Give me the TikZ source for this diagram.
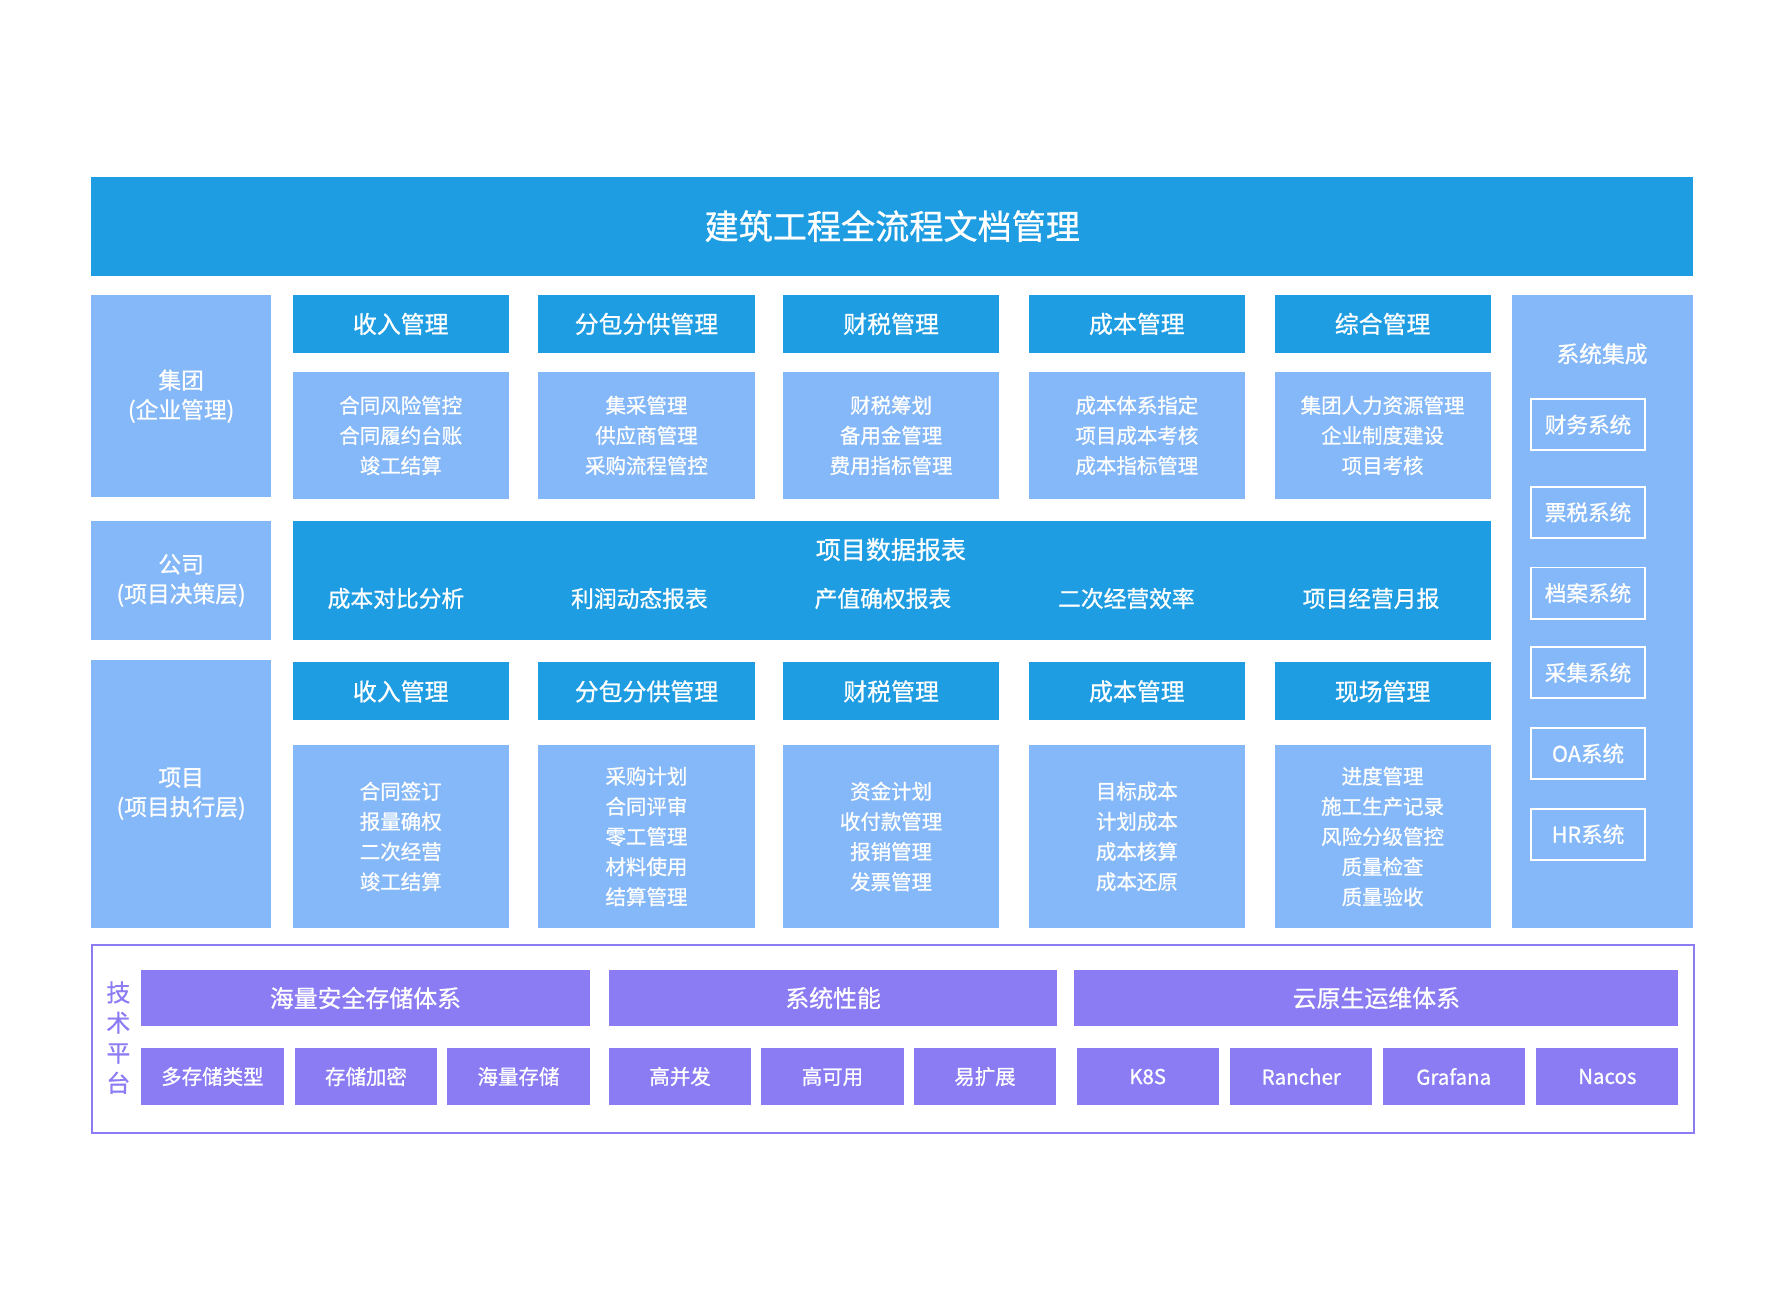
\documentclass[tikz,border=0pt]{standalone}
\usepackage{fontspec}
\setmainfont{Noto Sans CJK SC}[FakeBold=0.8]
\definecolor{db}{HTML}{1E9DE2}
\definecolor{lb}{HTML}{85B8F8}
\definecolor{pu}{HTML}{8B7CF4}
\begin{document}
\begin{tikzpicture}[x=1pt,y=-1pt,
 box/.style={anchor=north west,inner sep=0pt,text=white,align=center},
 hd/.style={box,fill=db,font=\fontsize{21}{24}\selectfont},
 ct/.style={box,fill=lb,font=\fontsize{18}{26.5}\selectfont},
 ph/.style={box,fill=pu,font=\fontsize{21}{24}\selectfont},
 ps/.style={box,fill=pu,font=\fontsize{18}{22}\selectfont},
 sb/.style={box,draw=white,line width=1.5pt,font=\fontsize{19}{22}\selectfont,minimum width=100pt,minimum height=45pt}]
\useasboundingbox (0,0) rectangle (1568,1146);
\node[hd,minimum width=1408pt,minimum height=87pt,font=\fontsize{30}{34}\selectfont] (title) at (80,155) {建筑工程全流程文档管理};
\node[ct,minimum width=158pt,minimum height=178pt,font=\fontsize{20}{26}\selectfont] (l1) at (80,259) {集团\\(企业管理)};
\node[ct,minimum width=158pt,minimum height=104pt,font=\fontsize{20}{26}\selectfont] (l2) at (80,458) {公司\\(项目决策层)};
\node[ct,minimum width=158pt,minimum height=235pt,font=\fontsize{20}{26}\selectfont] (l3) at (80,580) {项目\\(项目执行层)};
\foreach \x/\h/\c/\hh/\cc [count=\i] in {
 257/收入管理/{合同风险管控\\合同履约台账\\竣工结算}/收入管理/{合同签订\\报量确权\\二次经营\\竣工结算},
 473/分包分供管理/{集采管理\\供应商管理\\采购流程管控}/分包分供管理/{采购计划\\合同评审\\零工管理\\材料使用\\结算管理},
 688/财税管理/{财税筹划\\备用金管理\\费用指标管理}/财税管理/{资金计划\\收付款管理\\报销管理\\发票管理},
 904/成本管理/{成本体系指定\\项目成本考核\\成本指标管理}/成本管理/{目标成本\\计划成本\\成本核算\\成本还原},
 1120/综合管理/{集团人力资源管理\\企业制度建设\\项目考核}/现场管理/{进度管理\\施工生产记录\\风险分级管控\\质量检查\\质量验收}}{
 \node[hd,minimum width=190pt,minimum height=51pt] (h\i) at (\x,259) {\h};
 \node[ct,minimum width=190pt,minimum height=111pt] (c\i) at (\x,327) {\c};
 \node[hd,minimum width=190pt,minimum height=51pt] (hh\i) at (\x,582) {\hh};
 \node[ct,minimum width=190pt,minimum height=160pt] (cc\i) at (\x,655) {\cc};
}
\node[hd,minimum width=1053pt,minimum height=104pt] (band) at (257,458) {};
\node[text=white,font=\fontsize{22}{24}\selectfont] (bt) at (783,483) {项目数据报表};
\foreach \x/\t [count=\i] in {348/成本对比分析,562/利润动态报表,776/产值确权报表,990/二次经营效率,1205/项目经营月报}
 \node[text=white,font=\fontsize{20}{24}\selectfont] (b\i) at (\x,526) {\t};
\node[ct,minimum width=159pt,minimum height=556pt] (rc) at (1329,259) {};
\node[text=white,font=\fontsize{20}{24}\selectfont] (rt) at (1408,311) {系统集成};
\foreach \y/\t [count=\i] in {350/财务系统,427/票税系统,498/档案系统,568/采集系统,639/OA系统,710/HR系统}
 \node[sb] (s\i) at (1345,\y) {\t};
\node[box,draw=pu,line width=1.5pt,minimum width=1408pt,minimum height=165pt] (tech) at (80,830) {};
\node[text=pu,font=\fontsize{21}{26.5}\selectfont,align=center] (tt) at (104,912) {技\\术\\平\\台};
\node[ph,minimum width=394pt,minimum height=50pt] (p1) at (124,852) {海量安全存储体系};
\node[ph,minimum width=394pt,minimum height=50pt] (p2) at (535,852) {系统性能};
\node[ph,minimum width=531pt,minimum height=50pt] (p3) at (944,852) {云原生运维体系};
\foreach \x/\t [count=\i] in {124/多存储类型,259/存储加密,393/海量存储,535/高并发,669/高可用,803/易扩展,946/K8S,1081/Rancher,1215/Grafana,1350/Nacos}
 \node[ps,minimum width=125pt,minimum height=50pt] (q\i) at (\x,921) {\t};
\end{tikzpicture}
\end{document}
